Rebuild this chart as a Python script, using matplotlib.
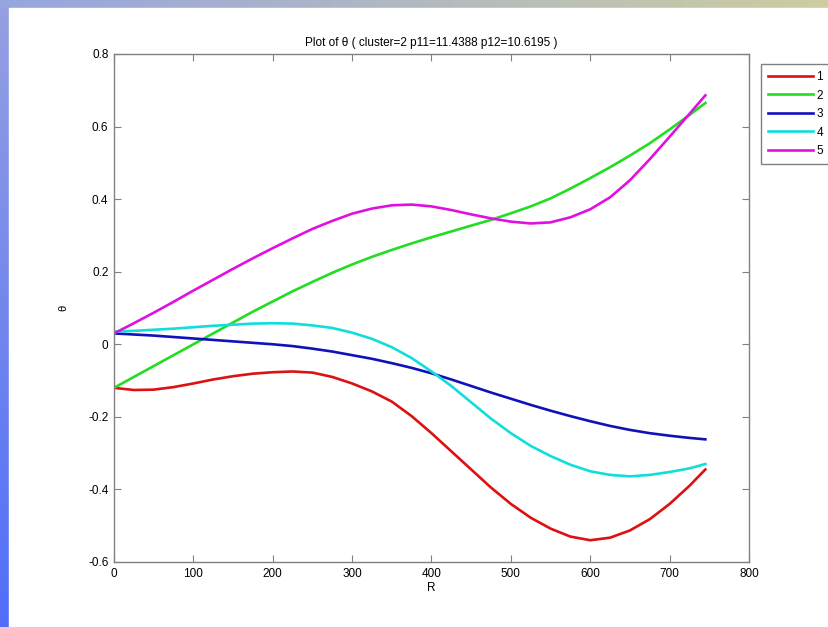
import matplotlib

matplotlib.use("Agg")
import matplotlib.pyplot as plt
import numpy as np
from matplotlib.patches import Rectangle

plt.rcParams["font.family"] = ["Liberation Sans", "DejaVu Sans"]

r_values = [0, 25, 50, 75, 100, 125, 150, 175, 200, 225, 250, 275, 300,
            325, 350, 375, 400, 425, 450, 475, 500, 525, 550, 575, 600,
            625, 650, 675, 700, 725, 745]

theta_1 = [-0.120, -0.126, -0.125, -0.118, -0.108, -0.097, -0.088, -0.081,
           -0.077, -0.075, -0.078, -0.090, -0.108, -0.130, -0.158, -0.198,
           -0.245, -0.295, -0.345, -0.395, -0.440, -0.478, -0.508, -0.530,
           -0.540, -0.533, -0.513, -0.482, -0.440, -0.390, -0.345]
theta_2 = [-0.120, -0.090, -0.060, -0.030, 0.000, 0.030, 0.060, 0.090,
           0.118, 0.146, 0.172, 0.197, 0.220, 0.241, 0.260, 0.278,
           0.295, 0.311, 0.327, 0.343, 0.361, 0.380, 0.402, 0.429,
           0.458, 0.488, 0.520, 0.554, 0.592, 0.632, 0.665]
theta_3 = [0.030, 0.027, 0.024, 0.020, 0.016, 0.012, 0.008, 0.004,
           0.000, -0.005, -0.012, -0.020, -0.030, -0.040, -0.052, -0.065,
           -0.080, -0.097, -0.115, -0.133, -0.150, -0.167, -0.183, -0.198,
           -0.212, -0.225, -0.236, -0.245, -0.252, -0.258, -0.262]
theta_4 = [0.035, 0.037, 0.040, 0.043, 0.047, 0.051, 0.054, 0.057,
           0.058, 0.057, 0.052, 0.045, 0.032, 0.015, -0.008, -0.038,
           -0.075, -0.115, -0.160, -0.205, -0.245, -0.280, -0.308, -0.332,
           -0.350, -0.360, -0.364, -0.360, -0.352, -0.342, -0.330]
theta_5 = [0.030, 0.058, 0.087, 0.117, 0.148, 0.178, 0.208, 0.237,
           0.265, 0.292, 0.318, 0.340, 0.360, 0.374, 0.383, 0.385,
           0.380, 0.370, 0.358, 0.347, 0.338, 0.333, 0.336, 0.350,
           0.372, 0.405, 0.452, 0.510, 0.572, 0.635, 0.686]

series = [theta_1, theta_2, theta_3, theta_4, theta_5]
labels = ["1", "2", "3", "4", "5"]
colors = ["#dd1111", "#22dd22", "#1111bb", "#11dddd", "#e011e0"]

fig = plt.figure(figsize=(8.29, 6.27), dpi=100)

# slide background: blue strip on the left, gradient strip on top
bg = fig.add_axes([0, 0, 1, 1], zorder=-10)
bg.set_axis_off()
h, w = 627, 829
yy = np.linspace(0, 1, h)[:, None]
xx = np.linspace(0, 1, w)[None, :]
left_col = np.stack([150 - 70 * yy, 160 - 50 * yy, 225 + 25 * yy], axis=-1)
top_row = np.stack([150 + 55 * xx, 165 + 40 * xx, 225 - 65 * xx], axis=-1)
img = np.empty((h, w, 3))
img[:] = left_col
img[:8, :] = top_row[0][None, :, :]
bg.imshow(np.clip(img, 0, 255).astype(np.uint8), aspect="auto",
          extent=[0, 1, 0, 1])
bg.add_patch(Rectangle((9 / w, 0), 1, (h - 8) / h, color="white"))
bg.set_xlim(0, 1)
bg.set_ylim(0, 1)

ax = fig.add_axes([114 / w, 1 - 562 / h, (749 - 114) / w, (562 - 54) / h])
for values, label, color in zip(series, labels, colors):
    ax.plot(r_values, values, color=color, linewidth=1.9, label=label)

ax.set_xlim(0, 800)
ax.set_ylim(-0.6, 0.8)
ax.set_xticks(np.arange(0, 801, 100))
ax.set_yticks(np.arange(-0.6, 0.81, 0.2))
ax.set_yticklabels(["-0.6", "-0.4", "-0.2", "0", "0.2", "0.4", "0.6", "0.8"])
ax.tick_params(direction="in", length=5, width=0.8, color="#808080",
               labelsize=8.5, top=True, right=True, pad=4)
for spine in ax.spines.values():
    spine.set_color("#808080")
    spine.set_linewidth(1.0)

ax.set_title("Plot of \u03b8 ( cluster=2 p11=11.4388 p12=10.6195 )",
             fontsize=8.5, pad=6)
ax.set_xlabel("R", fontsize=8.5, labelpad=2)
ax.set_ylabel("\u03b8", fontsize=8, labelpad=14)

ax.legend(loc="upper left", bbox_to_anchor=(761 / w, 1 - 64 / h),
          bbox_transform=fig.transFigure, fontsize=8.5, handlelength=3.8,
          labelspacing=0.55, handletextpad=0.3, borderpad=0.6,
          fancybox=False, edgecolor="#808080", framealpha=1,
          borderaxespad=0)

fig.savefig("out.png", dpi=100)
